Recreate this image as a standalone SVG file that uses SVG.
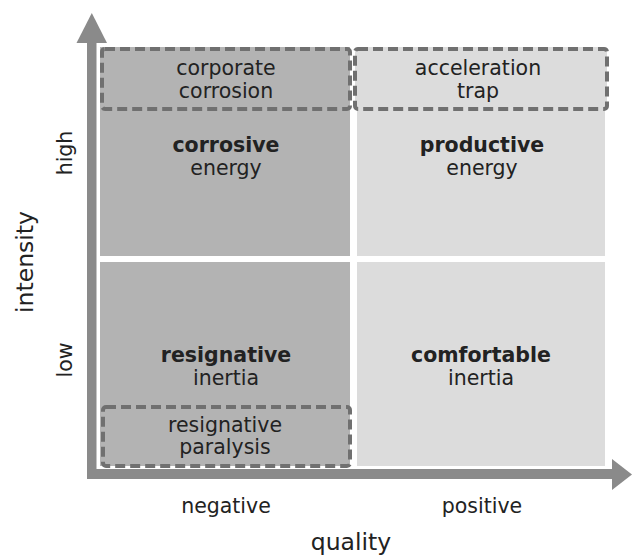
<svg xmlns="http://www.w3.org/2000/svg" width="632" height="556" viewBox="0 0 632 556">
  <style>
    text { font-family: "DejaVu Sans", Verdana, sans-serif; fill: #222; text-anchor: middle; }
    .lbl { font-size: 20.5px; }
    .bold { font-weight: bold; }
    .axis-title { font-size: 23.5px; }
    .neg { fill: #b3b3b3; }
    .pos { fill: #dcdcdc; }
    .dash { stroke: #707070; stroke-width: 4; stroke-dasharray: 10 5; }
    .axis { fill: #8a8a8a; }
  </style>

  <!-- quadrants -->
  <g id="corrosive-energy">
    <rect class="neg" x="100" y="47" width="250" height="209"/>
    <text class="lbl bold" x="226" y="152">corrosive</text>
    <text class="lbl" x="226" y="175">energy</text>
  </g>
  <g id="productive-energy">
    <rect class="pos" x="357" y="47" width="248" height="209"/>
    <text class="lbl bold" x="482" y="152">productive</text>
    <text class="lbl" x="482" y="175">energy</text>
  </g>
  <g id="resignative-inertia">
    <rect class="neg" x="100" y="262" width="250" height="204"/>
    <text class="lbl bold" x="226" y="362">resignative</text>
    <text class="lbl" x="226" y="385">inertia</text>
  </g>
  <g id="comfortable-inertia">
    <rect class="pos" x="357" y="262" width="248" height="204"/>
    <text class="lbl bold" x="481" y="362">comfortable</text>
    <text class="lbl" x="481" y="385">inertia</text>
  </g>

  <!-- dashed extreme zones -->
  <g id="corporate-corrosion">
    <rect class="neg dash" x="102" y="49" width="248" height="60" rx="3"/>
    <text class="lbl" x="226" y="75">corporate</text>
    <text class="lbl" x="226" y="98">corrosion</text>
  </g>
  <g id="acceleration-trap">
    <rect class="pos dash" x="355" y="49" width="252" height="60" rx="3"/>
    <text class="lbl" x="478" y="75">acceleration</text>
    <text class="lbl" x="478" y="98">trap</text>
  </g>
  <g id="resignative-paralysis">
    <rect class="neg dash" x="103" y="407" width="247" height="59" rx="3"/>
    <text class="lbl" x="225" y="432">resignative</text>
    <text class="lbl" x="225" y="454">paralysis</text>
  </g>

  <!-- axes -->
  <g id="axes">
    <rect class="axis" x="87" y="40" width="9.5" height="439"/>
    <polygon class="axis" points="91.8,13 107,43 76.5,43"/>
    <rect class="axis" x="87" y="469" width="527" height="10"/>
    <polygon class="axis" points="612,459 632,474.5 612,490"/>
  </g>

  <!-- axis labels -->
  <g id="axis-labels">
    <text class="lbl" x="226" y="513">negative</text>
    <text class="lbl" x="482" y="513">positive</text>
    <text class="axis-title" x="351" y="550">quality</text>
    <text class="lbl" transform="translate(72 153) rotate(-90)">high</text>
    <text class="lbl" transform="translate(72 360) rotate(-90)">low</text>
    <text class="axis-title" transform="translate(33 262) rotate(-90)">intensity</text>
  </g>
</svg>
